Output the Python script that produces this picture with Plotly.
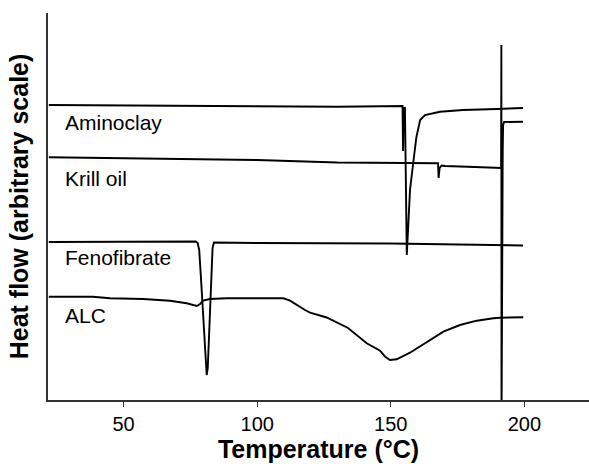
import plotly.graph_objects as go

# Temperature (°C) and heat flow (arbitrary units)
amino_T = [22.0, 60.0, 100.0, 130.0, 154.4, 154.6, 154.8, 155.3, 156.0, 157.2, 158.4, 159.6, 161.0, 162.8, 168.4, 177.0, 189.7, 199.5]
amino_H = [295.0, 294.5, 294.0, 293.3, 294.0, 249.0, 292.0, 292.0, 145.0, 210.0, 237.0, 263.0, 280.0, 285.0, 288.3, 290.0, 291.0, 292.0]

krill_T = [22.0, 100.0, 130.0, 167.7, 167.9, 168.3, 169.0, 170.3, 181.5, 191.3, 191.4, 191.45, 191.9, 192.05, 192.4, 199.5]
krill_H = [242.7, 240.0, 237.5, 236.7, 222.0, 232.0, 234.5, 234.0, 233.0, 232.0, 355.0, -30.0, 248.3, 275.0, 278.0, 278.3]

feno_T = [22.0, 60.0, 77.0, 77.7, 78.3, 79.0, 80.0, 80.8, 81.1, 81.5, 82.2, 82.8, 83.3, 83.8, 100.0, 150.0, 199.5]
feno_H = [158.0, 158.5, 158.5, 157.0, 150.0, 120.0, 70.0, 30.0, 25.0, 32.0, 80.0, 130.0, 152.0, 157.5, 157.0, 156.5, 154.5]

alc_T = [22.0, 38.5, 44.9, 57.3, 67.4, 73.6, 77.4, 78.6, 79.8, 82.3, 88.6, 109.8, 112.3, 114.8, 117.9, 119.8, 126.0, 134.0, 141.0, 146.0, 147.9, 149.7, 152.2, 157.2, 163.5, 169.7, 175.9, 182.2, 188.4, 190.9, 199.6]
alc_H = [103.3, 103.3, 101.7, 101.0, 99.3, 96.7, 94.0, 96.0, 99.3, 101.0, 101.7, 101.7, 99.3, 95.0, 90.0, 87.3, 82.5, 72.0, 56.7, 49.3, 43.3, 40.0, 40.7, 47.3, 58.3, 68.3, 75.0, 79.3, 81.7, 82.3, 82.7]

labels = ["Aminoclay", "Krill oil", "Fenofibrate", "ALC"]
label_T = [27.4, 27.4, 27.4, 27.4]
label_H = [277.5, 222.0, 142.5, 84.5]

x_ticks = [50, 100, 150, 200]

FONT = "Liberation Sans, Arial, sans-serif"

fig = go.Figure()
for T, H, name in [(amino_T, amino_H, labels[0]), (krill_T, krill_H, labels[1]),
                   (feno_T, feno_H, labels[2]), (alc_T, alc_H, labels[3])]:
    fig.add_trace(go.Scatter(x=T, y=H, mode="lines", name=name,
                             line=dict(color="black", width=1.9), showlegend=False))

for txt, tx, ty in zip(labels, label_T, label_H):
    fig.add_annotation(x=tx, y=ty, text=txt, showarrow=False, xanchor="left", yanchor="middle",
                       font=dict(family=FONT, size=21, color="black"))

fig.update_layout(
    width=589, height=464,
    margin=dict(l=48, r=0, t=13, b=64),
    paper_bgcolor="white", plot_bgcolor="white",
    font=dict(family=FONT, color="black"),
)
fig.update_xaxes(range=[21.7, 224.2], tickvals=x_ticks, ticks="outside", ticklen=5, tickwidth=1.2,
                 tickcolor="#333", showline=True, linecolor="#333", linewidth=1.5, showgrid=False,
                 zeroline=False, tickfont=dict(size=20, family=FONT), automargin=False,
                 title=dict(text="<b>Temperature (°C)</b>", font=dict(size=25, family=FONT), standoff=5))
fig.update_yaxes(range=[0, 387], showticklabels=False, ticks="", showline=True, linecolor="#333",
                 linewidth=1.5, showgrid=False, zeroline=False, automargin=False,
                 title=dict(text="<b>Heat flow (arbitrary scale)</b>", font=dict(size=25, family=FONT), standoff=11))

fig.write_html("out.html", config={"displayModeBar": False},
               post_script="document.body.style.margin='0px';")
